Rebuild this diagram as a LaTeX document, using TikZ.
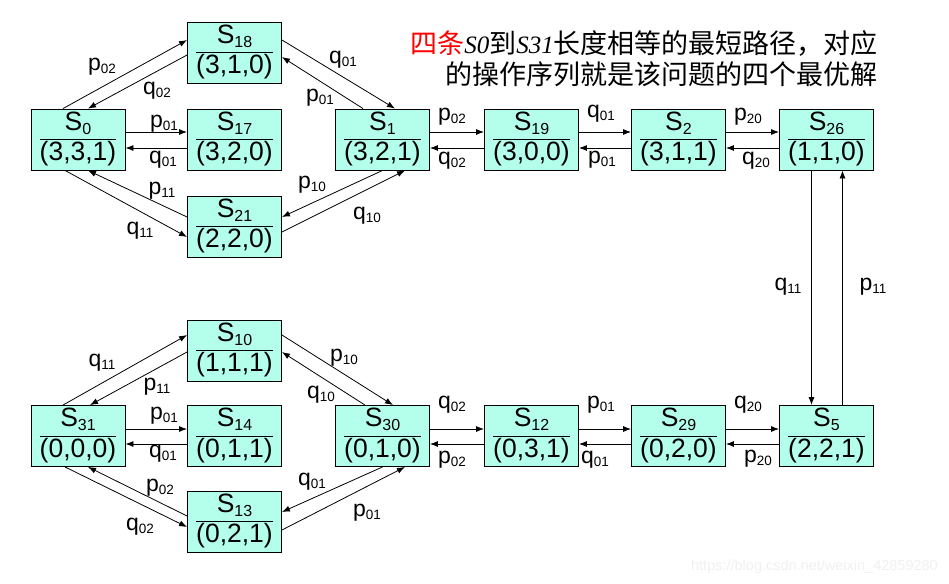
\documentclass[tikz,border=0pt]{standalone}
\usepackage{fontspec}
\setmainfont{Liberation Sans}
\newfontfamily\cjk{Noto Sans CJK SC}
\newfontfamily\ser{Liberation Serif}
\usetikzlibrary{arrows.meta}
\definecolor{stfill}{RGB}{180,255,235}
\definecolor{wmark}{RGB}{240,240,240}
\setlength{\arrayrulewidth}{0.9pt}
% subscripts for states and for labels
\newcommand{\sx}[1]{\raisebox{-4pt}{\fontsize{16}{16}\selectfont #1}}
\newcommand{\ix}[1]{\raisebox{-3pt}{\fontsize{13.5}{13.5}\selectfont #1}}
\newcommand{\stat}[2]{\begin{tabular}{@{}c@{}}S\sx{#1}\\\hline(#2)\end{tabular}}
\begin{document}
\begin{tikzpicture}[
    x=1pt, y=-1pt,
    state/.style={draw, line width=0.9pt, fill=stfill, minimum width=94pt,
                  minimum height=61pt, inner sep=0pt, font=\fontsize{26.5}{30}\selectfont},
    arr/.style={-{Latex[length=8pt,width=6pt]}, line width=0.8pt},
    lbl/.style={inner sep=0pt, font=\fontsize{23}{23}\selectfont},
    ttl/.style={inner sep=0pt, font=\cjk\fontsize{27}{31}\selectfont},
  ]
    \useasboundingbox (0,0) rectangle (949,583);

    % Upper half ------------------------------------------------------------
    \node[state] (S0)  at (78,139.5)    {\stat{0}{3,3,1}};
    \node[state] (S18) at (234.5,52.5)  {\stat{18}{3,1,0}};
    \node[state] (S17) at (234.5,139.5) {\stat{17}{3,2,0}};
    \node[state] (S21) at (234.5,226.5) {\stat{21}{2,2,0}};
    \node[state] (S1)  at (382.5,139.5) {\stat{1}{3,2,1}};
    \node[state] (S19) at (531.5,139.5) {\stat{19}{3,0,0}};
    \node[state] (S2)  at (678.5,139.5) {\stat{2}{3,1,1}};
    \node[state] (S26) at (826.5,139.5) {\stat{26}{1,1,0}};

    % Lower half ------------------------------------------------------------
    \node[state] (S31) at (78,436)      {\stat{31}{0,0,0}};
    \node[state] (S10) at (234.5,350.5) {\stat{10}{1,1,1}};
    \node[state] (S14) at (234.5,436)   {\stat{14}{0,1,1}};
    \node[state] (S13) at (234.5,521.5) {\stat{13}{0,2,1}};
    \node[state] (S30) at (382.5,436)   {\stat{30}{0,1,0}};
    \node[state] (S12) at (531.5,436)   {\stat{12}{0,3,1}};
    \node[state] (S29) at (678.5,436)   {\stat{29}{0,2,0}};
    \node[state] (S5)  at (826.5,436)   {\stat{5}{2,2,1}};

    % Title -----------------------------------------------------------------
    \node[ttl, anchor=base east] (title1) at (878,54)
      {\textcolor{red}{四条}{\ser\itshape\fontsize{25}{31}\selectfont S0}到{\ser\itshape\fontsize{25}{31}\selectfont S31}长度相等的最短路径，对应};
    \node[ttl, anchor=base east] (title2) at (878,85)
      {的操作序列就是该问题的四个最优解};
    \node[inner sep=0pt, anchor=base east, text=wmark, font=\fontsize{14.5}{14.5}\selectfont]
      (wm) at (938,570) {https://blog.csdn.net/weixin\_42859280};

    % Arrows, upper diamond -------------------------------------------------
    \draw[arr] ([xshift=-15pt]S0.north) -- ([yshift=12.5pt]S18.west) node[lbl] at (102,67) {p\ix{02}};
    \draw[arr] ([yshift=-2.5pt]S18.west) -- ([xshift=10pt]S0.north) node[lbl] at (157,91) {q\ix{02}};
    \draw[arr] ([yshift=12.5pt]S18.east) -- ([xshift=12.5pt]S1.north) node[lbl] at (343,60) {q\ix{01}};
    \draw[arr] ([xshift=-19.5pt]S1.north) -- ([yshift=-4.5pt]S18.east) node[lbl] at (320,98) {p\ix{01}};
    \draw[arr] ([yshift=7.5pt]S0.east) -- ([yshift=7.5pt]S17.west) node[lbl] at (164,124) {p\ix{01}};
    \draw[arr] ([yshift=-8.5pt]S17.west) -- ([yshift=-8.5pt]S0.east) node[lbl] at (163,160) {q\ix{01}};
    \draw[arr] ([xshift=-13pt]S0.south) -- ([yshift=-10.5pt]S21.west) node[lbl] at (140,231) {q\ix{11}};
    \draw[arr] ([yshift=9.5pt]S21.west) -- ([xshift=10pt]S0.south) node[lbl] at (162,191) {p\ix{11}};
    \draw[arr] (S1.south) -- ([yshift=9.5pt]S21.east) node[lbl] at (312,185) {p\ix{10}};
    \draw[arr] ([yshift=-5.5pt]S21.east) -- ([xshift=22.5pt]S1.south) node[lbl] at (367,216) {q\ix{10}};

    % Arrows, upper row -----------------------------------------------------
    \draw[arr] ([yshift=7.5pt]S1.east) -- ([yshift=7.5pt]S19.west) node[lbl] at (452,117) {p\ix{02}};
    \draw[arr] ([yshift=-8.5pt]S19.west) -- ([yshift=-8.5pt]S1.east) node[lbl] at (452,161) {q\ix{02}};
    \draw[arr] ([yshift=7.5pt]S19.east) -- ([yshift=7.5pt]S2.west) node[lbl] at (601,114) {q\ix{01}};
    \draw[arr] ([yshift=-8.5pt]S2.west) -- ([yshift=-8.5pt]S19.east) node[lbl] at (602,160) {p\ix{01}};
    \draw[arr] ([yshift=7.5pt]S2.east) -- ([yshift=7.5pt]S26.west) node[lbl] at (748,117) {p\ix{20}};
    \draw[arr] ([yshift=-8.5pt]S26.west) -- ([yshift=-8.5pt]S2.east) node[lbl] at (756,161) {q\ix{20}};

    % Arrows, right column --------------------------------------------------
    \draw[arr] ([xshift=-15pt]S26.south) -- ([xshift=-15pt]S5.north) node[lbl] at (788,287) {q\ix{11}};
    \draw[arr] ([xshift=16pt]S5.north) -- ([xshift=16pt]S26.south) node[lbl] at (873,287) {p\ix{11}};

    % Arrows, lower row -----------------------------------------------------
    \draw[arr] ([yshift=7pt]S29.east) -- ([yshift=7pt]S5.west) node[lbl] at (748,405) {q\ix{20}};
    \draw[arr] ([yshift=-8pt]S5.west) -- ([yshift=-8pt]S29.east) node[lbl] at (758,459) {p\ix{20}};
    \draw[arr] ([yshift=7pt]S12.east) -- ([yshift=7pt]S29.west) node[lbl] at (601,405) {p\ix{01}};
    \draw[arr] ([yshift=-8pt]S29.west) -- ([yshift=-8pt]S12.east) node[lbl] at (595,460) {q\ix{01}};
    \draw[arr] ([yshift=7pt]S30.east) -- ([yshift=7pt]S12.west) node[lbl] at (452,405) {q\ix{02}};
    \draw[arr] ([yshift=-8pt]S12.west) -- ([yshift=-8pt]S30.east) node[lbl] at (452,460) {p\ix{02}};

    % Arrows, lower diamond -------------------------------------------------
    \draw[arr] ([xshift=-15pt]S31.north) -- ([yshift=15.5pt]S10.west) node[lbl] at (102,363) {q\ix{11}};
    \draw[arr] ([yshift=-1.5pt]S10.west) -- ([xshift=12pt]S31.north) node[lbl] at (157,387) {p\ix{11}};
    \draw[arr] ([yshift=15.5pt]S10.east) -- ([xshift=10.5pt]S30.north) node[lbl] at (344,358) {p\ix{10}};
    \draw[arr] ([xshift=-17.5pt]S30.north) -- ([yshift=-1.5pt]S10.east) node[lbl] at (321,395) {q\ix{10}};
    \draw[arr] ([yshift=7pt]S31.east) -- ([yshift=7pt]S14.west) node[lbl] at (164,416) {p\ix{01}};
    \draw[arr] ([yshift=-8pt]S14.west) -- ([yshift=-8pt]S31.east) node[lbl] at (163,454) {q\ix{01}};
    \draw[arr] ([xshift=-13pt]S31.south) -- ([yshift=-5.5pt]S13.west) node[lbl] at (140,527) {q\ix{02}};
    \draw[arr] ([yshift=5.5pt]S13.west) -- ([xshift=10pt]S31.south) node[lbl] at (160,488) {p\ix{02}};
    \draw[arr] (S30.south) -- ([yshift=9.5pt]S13.east) node[lbl] at (312,482) {q\ix{01}};
    \draw[arr] ([yshift=-8.5pt]S13.east) -- ([xshift=22.5pt]S30.south) node[lbl] at (367,513) {p\ix{01}};
  \end{tikzpicture}
\end{document}
